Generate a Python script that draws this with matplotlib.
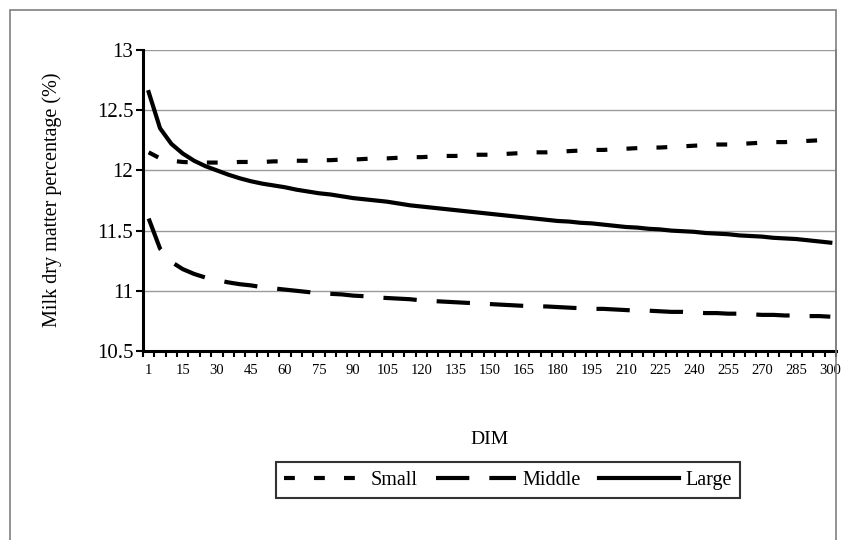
import matplotlib
matplotlib.use("Agg")
import matplotlib.pyplot as plt
import numpy as np
from matplotlib.patches import Rectangle

plt.rcParams['font.family'] = ['Liberation Serif', 'DejaVu Serif']

days = [1] + list(range(5, 301, 5))
tick_labels = ['1', '15', '30', '45', '60', '75', '90', '105', '120', '135', '150',
               '165', '180', '195', '210', '225', '240', '255', '270', '285', '300']

small = [12.15, 12.10, 12.08, 12.07, 12.065, 12.065, 12.065, 12.065, 12.07, 12.07,
         12.07, 12.075, 12.075, 12.08, 12.08, 12.085, 12.085, 12.09, 12.09, 12.095,
         12.10, 12.10, 12.105, 12.11, 12.11, 12.115, 12.12, 12.12, 12.125, 12.13,
         12.13, 12.135, 12.14, 12.145, 12.15, 12.15, 12.155, 12.16, 12.165, 12.17,
         12.17, 12.175, 12.18, 12.185, 12.19, 12.19, 12.195, 12.20, 12.205, 12.21,
         12.215, 12.215, 12.22, 12.225, 12.23, 12.235, 12.235, 12.24, 12.245, 12.25,
         12.255]
middle = [11.60, 11.35, 11.24, 11.18, 11.14, 11.11, 11.09, 11.07, 11.055, 11.045,
          11.03, 11.02, 11.01, 11.00, 10.99, 10.98, 10.975, 10.97, 10.96, 10.955,
          10.945, 10.94, 10.935, 10.93, 10.92, 10.915, 10.91, 10.905, 10.90, 10.895,
          10.89, 10.885, 10.88, 10.875, 10.87, 10.87, 10.865, 10.86, 10.855, 10.85,
          10.85, 10.845, 10.84, 10.835, 10.835, 10.83, 10.825, 10.825, 10.82, 10.815,
          10.815, 10.81, 10.81, 10.805, 10.80, 10.80, 10.795, 10.795, 10.79, 10.79,
          10.785]
large = [12.65, 12.35, 12.22, 12.14, 12.08, 12.035, 12.0, 11.965, 11.935, 11.91,
         11.89, 11.875, 11.86, 11.84, 11.825, 11.81, 11.80, 11.785, 11.77, 11.76,
         11.75, 11.74, 11.725, 11.71, 11.70, 11.69, 11.68, 11.67, 11.66, 11.65,
         11.64, 11.63, 11.62, 11.61, 11.60, 11.59, 11.58, 11.575, 11.565, 11.56,
         11.55, 11.54, 11.53, 11.525, 11.515, 11.51, 11.50, 11.495, 11.49, 11.48,
         11.475, 11.47, 11.46, 11.455, 11.45, 11.44, 11.435, 11.43, 11.42, 11.41,
         11.40]

W, H = 844, 540
fig = plt.figure(figsize=(W / 100, H / 100), dpi=100)
fig.patch.set_facecolor('white')

# outer chart border (cropped at the bottom)
fig.add_artist(Rectangle((10 / W, -0.05), (836 - 10) / W, 1 - 10 / H + 0.05,
                         transform=fig.transFigure, fill=False,
                         edgecolor='#808080', linewidth=1.2))

ax = fig.add_axes([143 / W, 1 - 351 / H, (836 - 143) / W, (351 - 50) / H])
x = np.arange(len(days))

lw = 3.0
ax.plot(x, small, color='black', lw=lw, linestyle=(0, (2.6, 4.6)),
        dash_capstyle='butt', label='Small', zorder=3)
ax.plot(x, middle, color='black', lw=lw, linestyle=(0, (8, 4.8)),
        dash_capstyle='butt', label='Middle', zorder=3)
ax.plot(x, large, color='black', lw=lw, linestyle='-', label='Large', zorder=3)

ax.set_xlim(-0.5, len(days) - 0.5)
ax.set_ylim(10.5, 13)
ax.set_yticks([10.5, 11, 11.5, 12, 12.5, 13])
ax.set_yticklabels(['10.5', '11', '11.5', '12', '12.5', '13'], fontsize=15)
ax.yaxis.grid(True, color='#9a9a9a', linewidth=1.0)
ax.set_axisbelow(True)

# ticks between categories, labels every 3rd category
ax.set_xticks(np.arange(-0.5, len(days), 1.0))
ax.set_xticklabels([])
ax.set_xticks(np.arange(0, len(days), 3), minor=True)
ax.set_xticklabels(tick_labels, minor=True, fontsize=10.5)
ax.tick_params(axis='x', which='major', direction='out', length=4, width=1.5)
ax.tick_params(axis='x', which='minor', length=0, pad=9)
ax.tick_params(axis='y', direction='out', length=5, width=1.5, pad=2)

for s in ['left', 'bottom']:
    ax.spines[s].set_linewidth(2.2)
    ax.spines[s].set_color('black')
ax.spines['top'].set_visible(False)
ax.spines['right'].set_color('#808080')
ax.spines['right'].set_linewidth(1.2)

fig.text(52 / W, 1 - 200 / H, 'Milk dry matter percentage (%)', fontsize=14.5,
         rotation=90, ha='center', va='center')
fig.text(490 / W, 1 - 440 / H, 'DIM', fontsize=14, ha='center', va='center')

leg = fig.legend(loc='center', bbox_to_anchor=(508 / W, 1 - 480 / H), ncol=3,
                 fontsize=14.5, frameon=True, fancybox=False, handlelength=4.0,
                 handletextpad=0.3, columnspacing=0.9, borderpad=0.4)
leg.get_frame().set_edgecolor('black')
leg.get_frame().set_linewidth(1.5)

fig.savefig('out.png', dpi=100)
